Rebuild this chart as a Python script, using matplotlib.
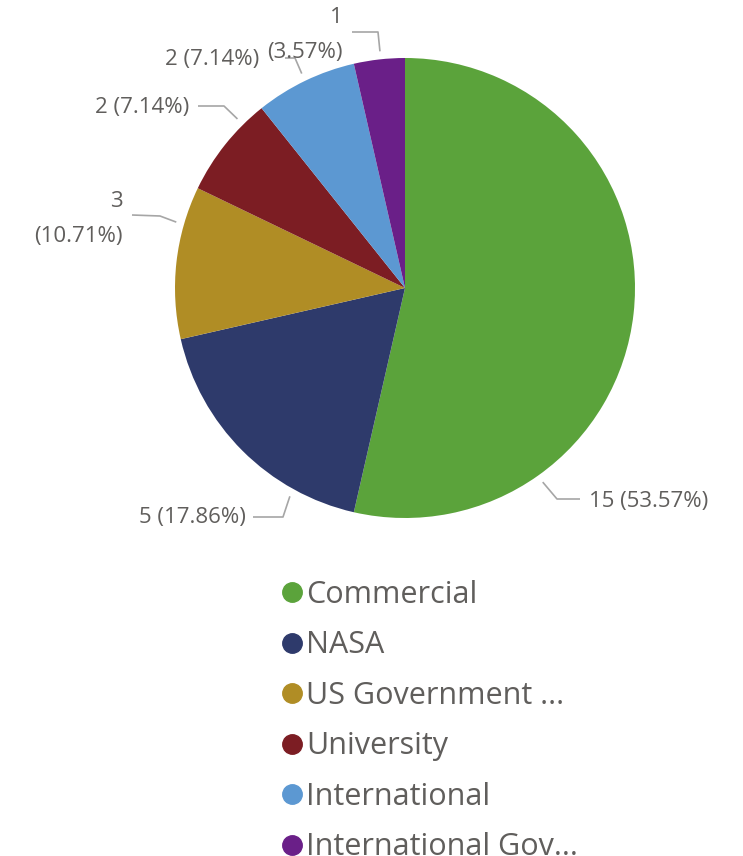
import numpy as np
import matplotlib
matplotlib.use("Agg")
import matplotlib.pyplot as plt
from matplotlib.lines import Line2D

categories = ["Commercial", "NASA", "US Government ...", "University",
              "International", "International Gov..."]
counts = [15, 5, 3, 2, 2, 1]
colors = ["#5BA33B", "#2E3A6B", "#B08D25", "#7C1D23", "#5C98D2", "#6A1F88"]

# label layout (pixel coords, y down): anchor fraction inside wedge, elbow, line end, text pos, align
label_layout = [
    (0.75, (557, 499), (580, 499), (589, 501), "left"),
    (0.25, (283, 517), (253, 517), (246, 518), "right"),
    (0.75, (160, 216), (132, 215), (123, 219), "right"),
    (0.76, (224, 106), (198, 106), (189, 107), "right"),
    (0.50, (295, 58), (285, 58), (259, 59), "right"),
    (0.53, (378, 32), (352, 32), (343, 35), "right"),
]
label_breaks = [False, False, True, False, False, True]

W, H = 743, 856
cx, cy, r = 405, 288, 230

plt.rcParams["font.family"] = ["Open Sans", "DejaVu Sans"]
fig = plt.figure(figsize=(W / 100, H / 100), dpi=100)
ax = fig.add_axes([0, 0, 1, 1])

wedges, _ = ax.pie(counts, colors=colors, startangle=90, counterclock=False,
                   center=(cx, H - cy), radius=r, frame=True)
ax.set_xlim(0, W)
ax.set_ylim(0, H)
ax.set_aspect("equal")
ax.axis("off")

total = sum(counts)
text_color = "#605E5C"
line_color = "#A6A6A6"
for w, n, (frac, elbow, end, tpos, ha), brk in zip(wedges, counts, label_layout, label_breaks):
    th1, th2 = w.theta1, w.theta2
    # clockwise: walk from theta2 toward theta1
    ang = np.deg2rad(th2 - frac * (th2 - th1))
    ax0 = cx + (r + 8) * np.cos(ang)
    ay0 = (H - cy) + (r + 8) * np.sin(ang)
    ax.plot([ax0, elbow[0], end[0]], [ay0, H - elbow[1], H - end[1]],
            color=line_color, lw=1.2, solid_capstyle="butt")
    sep = "\n" if brk else " "
    txt = f"{n}{sep}({n / total * 100:.2f}%)"
    ax.text(tpos[0], H - tpos[1], txt, ha=ha, va="center", fontsize=16,
            color=text_color, linespacing=1.9)

handles = [Line2D([], [], marker="o", ls="none", markersize=14,
                  markerfacecolor=c, markeredgecolor=c) for c in colors]
ax.legend(handles, categories, loc="upper left", bbox_to_anchor=(282, H - 580),
          bbox_transform=ax.transData, frameon=False, fontsize=22,
          labelspacing=0.67, handlelength=0.65, handletextpad=0.15,
          borderpad=0, borderaxespad=0, labelcolor=text_color)

fig.savefig("out.png", dpi=100, facecolor="white")
